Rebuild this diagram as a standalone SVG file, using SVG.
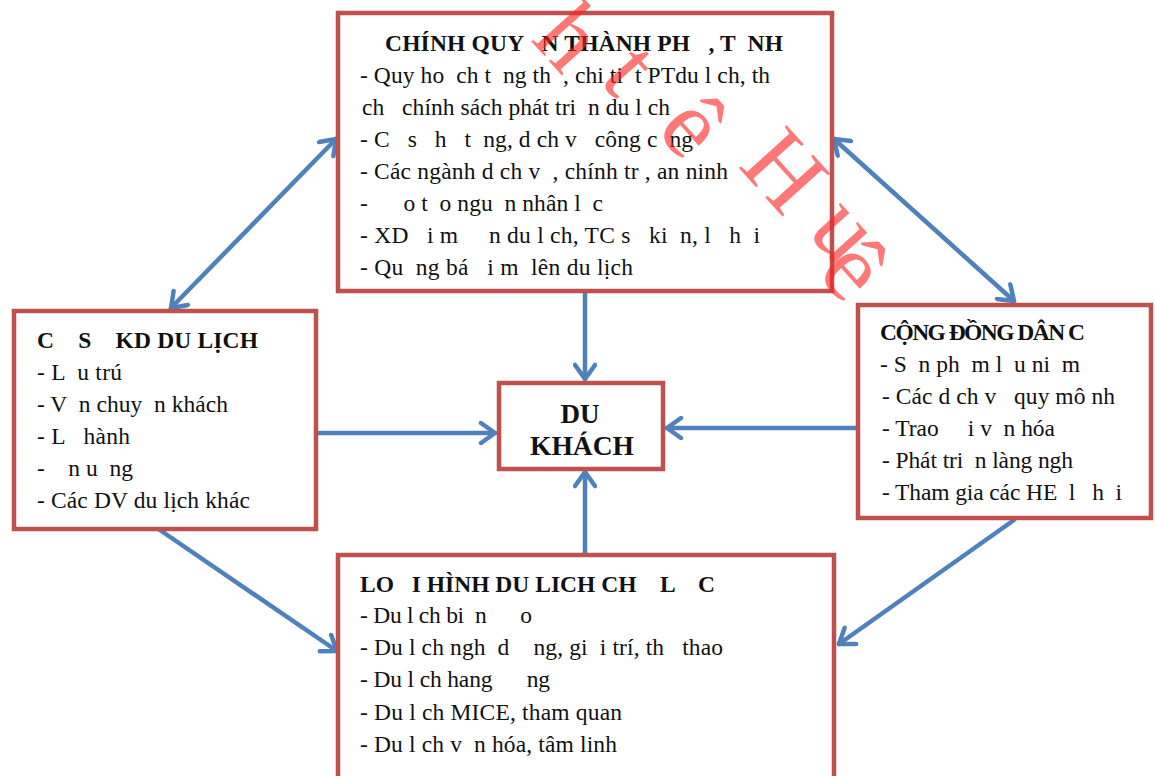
<svg xmlns="http://www.w3.org/2000/svg" width="1155" height="776" viewBox="0 0 1155 776">
<style>
.box{fill:#ffffff;stroke:#c0504d;stroke-width:4.5}
.t{font-family:"Liberation Serif","Times New Roman",serif;font-size:23.5px;fill:#111;white-space:pre}
.b{font-weight:bold}
.c{stroke:#4f81bd;stroke-width:4.5;fill:none;stroke-linecap:round}
.wm{font-family:"Liberation Serif","Times New Roman",serif;font-size:98px;fill:#ff2020;opacity:0.6}
</style>
<defs>
<marker id="ah" viewBox="0 0 24 24" markerUnits="userSpaceOnUse" markerWidth="24" markerHeight="24" refX="19" refY="12" orient="auto-start-reverse">
<path d="M5,2 L19,12 L5,22" fill="none" stroke="#4f81bd" stroke-width="4.5" stroke-linecap="round" stroke-linejoin="round"/>
</marker>
</defs>
<rect width="1155" height="776" fill="#ffffff"/>

<g id="connectors">
<line class="c" x1="585" y1="293" x2="585" y2="379" marker-end="url(#ah)"/>
<line class="c" x1="319" y1="433" x2="495" y2="433" marker-end="url(#ah)"/>
<line class="c" x1="856" y1="428" x2="667" y2="428" marker-end="url(#ah)"/>
<line class="c" x1="585" y1="553" x2="585" y2="472" marker-end="url(#ah)"/>
<line class="c" x1="171" y1="308" x2="336" y2="139" marker-start="url(#ah)" marker-end="url(#ah)"/>
<line class="c" x1="834" y1="139" x2="1014" y2="301" marker-start="url(#ah)" marker-end="url(#ah)"/>
<line class="c" x1="157" y1="528" x2="337" y2="651" marker-end="url(#ah)"/>
<line class="c" x1="1014" y1="520" x2="839" y2="644" marker-end="url(#ah)"/>
</g>

<g id="node-chinh-quyen">
<rect class="box" x="338" y="13" width="494" height="278"/>
<text class="t b" x="385" y="51" textLength="398" lengthAdjust="spacing">CHÍNH QUY   N THÀNH PH   , T  NH</text>
<text class="t" x="360" y="83" textLength="410" lengthAdjust="spacing">- Quy ho  ch t  ng th  , chi ti  t PTdu l ch, th</text>
<text class="t" x="362" y="115" textLength="308" lengthAdjust="spacing">ch   chính sách phát tri  n du l ch</text>
<text class="t" x="360" y="147" textLength="333" lengthAdjust="spacing">- C   s   h   t  ng, d ch v   công c  ng</text>
<text class="t" x="360" y="179" textLength="368" lengthAdjust="spacing">- Các ngành d ch v  , chính tr , an ninh</text>
<text class="t" x="360" y="211" textLength="243" lengthAdjust="spacing">-      o t  o ngu  n nhân l  c</text>
<text class="t" x="360" y="243" textLength="400" lengthAdjust="spacing">- XD   i m     n du l ch, TC s   ki  n, l   h  i</text>
<text class="t" x="360" y="275" textLength="273" lengthAdjust="spacing">- Qu  ng bá   i m  lên du lịch</text>
</g>

<g id="node-co-so">
<rect class="box" x="14" y="311" width="302" height="218"/>
<text class="t b" x="37" y="348" textLength="221" lengthAdjust="spacing">C    S    KD DU LỊCH</text>
<text class="t" x="37" y="380" textLength="85" lengthAdjust="spacing">- L  u trú</text>
<text class="t" x="37" y="412" textLength="191" lengthAdjust="spacing">- V  n chuy  n khách</text>
<text class="t" x="37" y="444" textLength="93" lengthAdjust="spacing">- L   hành</text>
<text class="t" x="37" y="476" textLength="96" lengthAdjust="spacing">-    n u  ng</text>
<text class="t" x="37" y="508" textLength="213" lengthAdjust="spacing">- Các DV du lịch khác</text>
</g>

<g id="node-cong-dong">
<rect class="box" x="858" y="305" width="293" height="213"/>
<text class="t b" x="880" y="340" textLength="205" lengthAdjust="spacing">CỘNG ĐỒNG DÂN C</text>
<text class="t" x="880" y="372" textLength="200" lengthAdjust="spacing">- S  n ph  m l  u ni  m</text>
<text class="t" x="882" y="404" textLength="233" lengthAdjust="spacing">- Các d ch v   quy mô nh</text>
<text class="t" x="882" y="436" textLength="173" lengthAdjust="spacing">- Trao     i v  n hóa</text>
<text class="t" x="882" y="468" textLength="191" lengthAdjust="spacing">- Phát tri  n làng ngh</text>
<text class="t" x="882" y="500" textLength="240" lengthAdjust="spacing">- Tham gia các HE  l   h  i</text>
</g>

<g id="node-loai-hinh">
<rect class="box" x="338" y="555" width="496" height="240"/>
<text class="t b" x="360" y="592" textLength="355" lengthAdjust="spacing">LO   I HÌNH DU LICH CH    L    C</text>
<text class="t" x="360" y="623" textLength="172" lengthAdjust="spacing">- Du l ch bi  n      o</text>
<text class="t" x="360" y="655" textLength="363" lengthAdjust="spacing">- Du l ch ngh  d    ng, gi  i trí, th   thao</text>
<text class="t" x="360" y="687" textLength="190" lengthAdjust="spacing">- Du l ch hang      ng</text>
<text class="t" x="360" y="720" textLength="262" lengthAdjust="spacing">- Du l ch MICE, tham quan</text>
<text class="t" x="360" y="752" textLength="257" lengthAdjust="spacing">- Du l ch v  n hóa, tâm linh</text>
</g>

<g id="node-du-khach">
<rect class="box" x="499" y="383" width="164" height="86"/>
<text class="t b" x="580" y="423" text-anchor="middle" style="font-size:27px">DU</text>
<text class="t b" x="530" y="455" textLength="104" lengthAdjust="spacingAndGlyphs" style="font-size:27px">KHÁCH</text>
</g>

<g id="watermark">
<text class="wm" x="530 598 655 737 806 816" y="40 80 131 166 232 274" rotate="48">htêHuê</text>
</g>
</svg>
